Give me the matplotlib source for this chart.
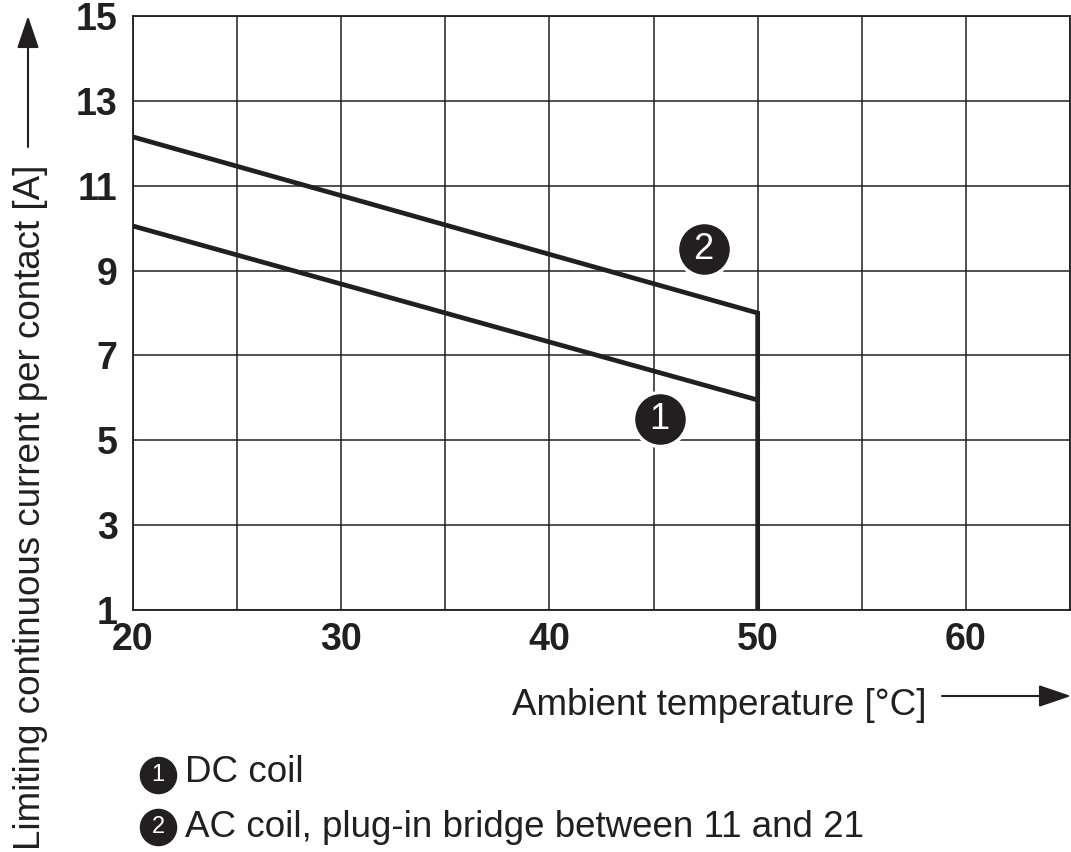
import matplotlib.pyplot as plt
from matplotlib.lines import Line2D

plt.rc('font', family='Liberation Sans')

# 데이터
temp_dc = [20, 50]
current_dc = [10.05, 5.95]
temp_ac = [20, 50, 50]
current_ac = [12.15, 8.0, 1.0]

x_ticks = [20, 30, 40, 50, 60]
x_grid = [25, 35, 45, 55, 65]
y_ticks = [1, 3, 5, 7, 9, 11, 13, 15]

curve_numbers = ['1', '2']
legend_texts = ['DC coil', 'AC coil, plug-in bridge between 11 and 21']

ink = '#231f20'
W, H = 1071, 852

fig = plt.figure(figsize=(W / 100, H / 100), dpi=100)
ax = fig.add_axes([133 / W, 1 - 610 / H, (1070 - 133) / W, (610 - 16) / H])

ax.set_xlim(20, 65)
ax.set_ylim(1, 15)
ax.set_xticks(x_ticks)
ax.set_xticks(x_grid, minor=True)
ax.set_yticks(y_ticks)
ax.grid(True, which='both', color=ink, lw=1.1)
ax.set_axisbelow(True)
ax.tick_params(which='both', length=0)
ax.tick_params(axis='y', pad=11)
ax.tick_params(axis='x', pad=9)
for lab in ax.get_xticklabels() + ax.get_yticklabels():
    lab.set_fontsize(27)
    lab.set_fontweight('bold')
    lab.set_color(ink)
for s in ax.spines.values():
    s.set_color(ink)
    s.set_linewidth(1.3)

ax.plot(temp_dc, current_dc, color=ink, lw=3.4, solid_capstyle='butt')
ax.plot(temp_ac, current_ac, color=ink, lw=3.4, solid_joinstyle='miter')

# 곡선 번호 (원 안의 숫자)
num_pos = [(45.3, 5.5), (47.4, 9.5)]
for (nx, ny), num in zip(num_pos, curve_numbers):
    ax.scatter([nx], [ny], s=1513, color=ink, edgecolors='white', linewidths=2.5, zorder=5)
    ax.text(nx, ny, num, color='white', fontsize=26, ha='center', va='center', zorder=6)

# 축 제목과 화살표
fig.text(40 / W, 1 - 850 / H, 'Limiting continuous current per contact [A]',
         rotation=90, rotation_mode='anchor', ha='left', va='baseline',
         fontsize=26.5, color=ink)
arrow = dict(arrowstyle='-|>,head_length=1.0,head_width=0.34', lw=1.5, color=ink,
             mutation_scale=20, shrinkA=0, shrinkB=0)
ax.annotate('', xy=(28 / W, 1 - 16 / H), xytext=(28 / W, 1 - 147 / H),
            xycoords='figure fraction', textcoords='figure fraction', arrowprops=arrow)

fig.text(512 / W, 1 - 715 / H, 'Ambient temperature [°C]', ha='left', va='baseline',
         fontsize=26.5, color=ink)
ax.annotate('', xy=(1071 / W, 1 - 696 / H), xytext=(942 / W, 1 - 696 / H),
            xycoords='figure fraction', textcoords='figure fraction', arrowprops=arrow)

# 범례
leg_y = [775, 827]
leg_base = [782, 837]
for num, txt, cy, by in zip(curve_numbers, legend_texts, leg_y, leg_base):
    fig.add_artist(Line2D([158 / W], [1 - cy / H], marker='o', ms=26, color=ink,
                          transform=fig.transFigure))
    fig.text(158 / W, 1 - cy / H, num, color='white', fontsize=17, ha='center',
             va='center')
    fig.text(185 / W, 1 - by / H, txt, ha='left', va='baseline', fontsize=26.5, color=ink)

fig.savefig('out.png', dpi=100)
